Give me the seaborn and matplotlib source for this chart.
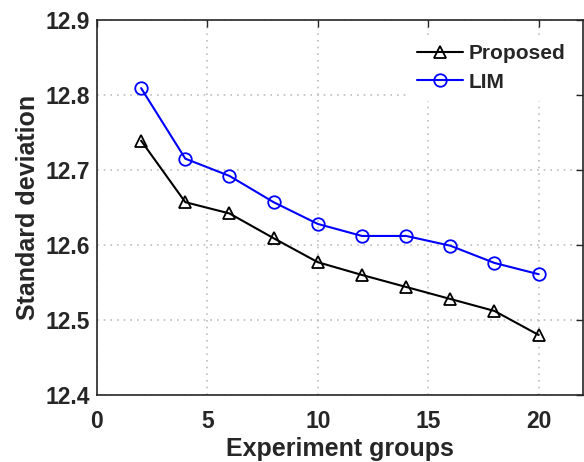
import matplotlib
matplotlib.use("Agg")
import matplotlib.pyplot as plt
import seaborn as sns
import pandas as pd

groups = [2, 4, 6, 8, 10, 12, 14, 16, 18, 20]
proposed = [12.739, 12.657, 12.642, 12.609, 12.577, 12.560, 12.544, 12.528, 12.512, 12.480]
lim = [12.809, 12.715, 12.692, 12.657, 12.628, 12.612, 12.612, 12.599, 12.576, 12.561]
x_ticks = [0, 5, 10, 15, 20]
y_ticks = [12.4, 12.5, 12.6, 12.7, 12.8, 12.9]

sns.set_style("white")
plt.rcParams['font.family'] = ['Liberation Sans', 'DejaVu Sans']
plt.rcParams['font.weight'] = 'bold'

df = pd.DataFrame({"groups": groups * 2,
                   "value": proposed + lim,
                   "method": ["Proposed"] * len(groups) + ["LIM"] * len(groups)})

fig = plt.figure(figsize=(5.84, 4.62), dpi=100)
ax = fig.add_axes([0.166, 0.145, 0.832, 0.812])

sns.lineplot(data=df, x="groups", y="value", hue="method", style="method",
             palette={"Proposed": "black", "LIM": "blue"},
             markers={"Proposed": "^", "LIM": "o"}, dashes=False,
             markerfacecolor="none", markersize=9, markeredgewidth=1.3,
             linewidth=1.5, ax=ax)
for line in ax.lines:
    line.set_markerfacecolor("none")
    line.set_markeredgecolor(line.get_color())

ax.set_xlim(0, 22)
ax.set_ylim(12.4, 12.9)
ax.set_xticks(x_ticks)
ax.set_yticks(y_ticks)
ax.set_xticklabels([str(t) for t in x_ticks], fontsize=16.5, fontweight='bold', color='#262626')
ax.set_yticklabels([f"{t:.1f}" for t in y_ticks], fontsize=16.5, fontweight='bold', color='#262626')
ax.tick_params(direction='in', length=5, width=1, top=True, right=True, colors='#262626', pad=5)
ax.tick_params(axis='x', pad=11)
ax.grid(True, linestyle=(0, (1, 3)), color='#bdbdbd', linewidth=1.2)
for s in ax.spines.values():
    s.set_color('#262626')
    s.set_linewidth(1.2)
ax.set_xlabel("Experiment groups", fontsize=18, fontweight='bold', color='#262626', labelpad=3)
ax.set_ylabel("Standard deviation", fontsize=18, fontweight='bold', color='#262626', labelpad=4)

h, l = ax.get_legend_handles_labels()
for hh in h:
    hh.set_markerfacecolor("none")
leg = ax.legend(h, l, loc='upper right', bbox_to_anchor=(1.003, 0.985), frameon=True,
                prop={'weight': 'bold', 'size': 15}, handlelength=2.2, handletextpad=0.3,
                borderpad=0.4, labelspacing=0.45, fancybox=False)
leg.get_frame().set_edgecolor('white')
leg.get_frame().set_facecolor('white')
leg.get_frame().set_alpha(1)

fig.savefig("out.png", dpi=100)
